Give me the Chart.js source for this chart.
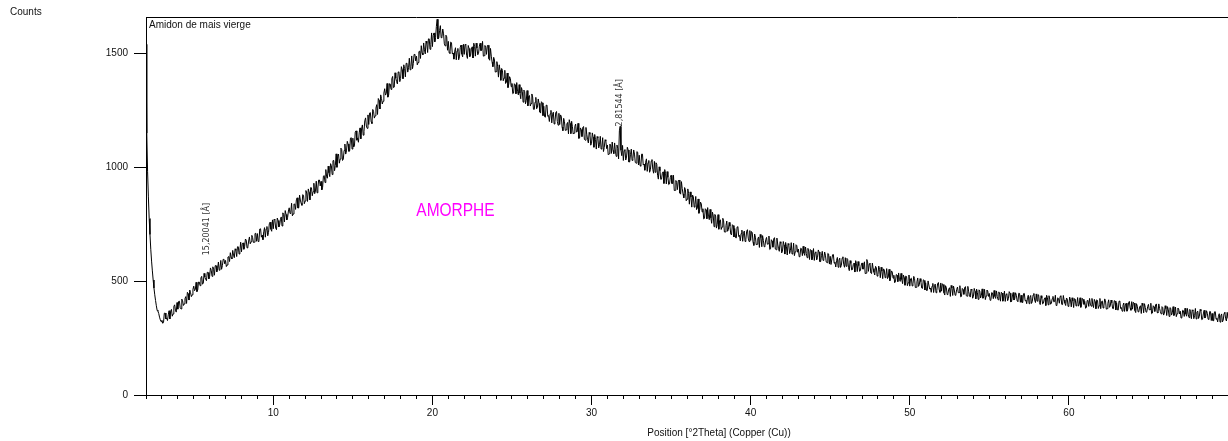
<!DOCTYPE html>
<html>
<head>
<meta charset="utf-8">
<script src="https://cdn.jsdelivr.net/npm/chart.js@4.4.1/dist/chart.umd.min.js"></script>
<style>
  html, body { margin: 0; padding: 0; background: #fff; overflow: hidden; }
  #wrap { width: 1228px; height: 441px; position: relative; }
</style>
</head>
<body>
<div id="wrap"><canvas id="xrd-chart"></canvas></div>
<script>
// scan grid (°2Theta)
const scanStart = 2.0;
const scanStep = 0.1;

// counts at 2.0, 2.1 ... 69.9, 70.0 (one row per degree)
const counts = [
  1540, 980, 775, 640, 545, 470, 415, 372, 358, 330,
  328, 318, 360, 338, 352, 334, 376, 356, 396, 364,
  377, 412, 378, 414, 400, 432, 451, 417, 449, 440,
  478, 463, 454, 496, 480, 521, 490, 518, 502, 538,
  521, 548, 563, 526, 568, 554, 548, 591, 568, 595,
  591, 571, 608, 625, 598, 614, 642, 608, 651, 635,
  629, 668, 652, 680, 650, 694, 673, 692, 671, 710,
  709, 680, 730, 702, 717, 693, 740, 714, 759, 719,
  730, 768, 726, 766, 746, 782, 800, 760, 793, 780,
  822, 803, 787, 839, 815, 866, 822, 856, 833, 877,
  852, 887, 905, 857, 910, 893, 884, 939, 909, 944,
  938, 912, 964, 990, 952, 976, 1016, 968, 1030, 1008,
  1000, 1058, 1036, 1078, 1036, 1102, 1072, 1102, 1072, 1130,
  1128, 1094, 1160, 1129, 1151, 1125, 1186, 1158, 1217, 1171,
  1188, 1240, 1192, 1246, 1226, 1275, 1302, 1256, 1302, 1290,
  1345, 1324, 1308, 1367, 1342, 1399, 1352, 1391, 1366, 1417,
  1390, 1429, 1450, 1397, 1456, 1437, 1428, 1489, 1456, 1495,
  1488, 1460, 1510, 1534, 1494, 1516, 1554, 1504, 1564, 1540,
  1530, 1590, 1570, 1650, 1569, 1622, 1574, 1586, 1533, 1573,
  1553, 1500, 1547, 1502, 1510, 1472, 1522, 1485, 1537, 1485,
  1496, 1537, 1478, 1522, 1491, 1529, 1545, 1488, 1524, 1501,
  1545, 1515, 1488, 1535, 1496, 1536, 1470, 1488, 1442, 1471,
  1420, 1444, 1450, 1382, 1426, 1392, 1368, 1414, 1366, 1390,
  1368, 1326, 1362, 1372, 1318, 1326, 1350, 1286, 1332, 1294,
  1270, 1315, 1280, 1309, 1254, 1307, 1264, 1281, 1238, 1283,
  1268, 1220, 1272, 1227, 1235, 1195, 1242, 1200, 1245, 1185,
  1188, 1224, 1161, 1200, 1164, 1197, 1209, 1148, 1178, 1150,
  1190, 1156, 1127, 1173, 1135, 1179, 1119, 1145, 1107, 1145,
  1105, 1133, 1144, 1080, 1129, 1099, 1080, 1130, 1087, 1115,
  1098, 1059, 1098, 1111, 1060, 1071, 1098, 1037, 1180, 1051,
  1030, 1078, 1045, 1076, 1024, 1080, 1039, 1058, 1018, 1066,
  1053, 1005, 1058, 1014, 1022, 982, 1030, 989, 1034, 974,
  978, 1013, 948, 985, 948, 980, 990, 927, 956, 927,
  965, 929, 898, 942, 902, 944, 882, 906, 866, 902,
  860, 885, 892, 825, 870, 837, 814, 861, 814, 839,
  818, 776, 813, 823, 770, 778, 803, 739, 786, 748,
  728, 769, 738, 765, 716, 764, 726, 741, 703, 744,
  731, 690, 739, 701, 709, 675, 720, 684, 726, 674,
  679, 713, 657, 693, 662, 694, 705, 651, 679, 656,
  692, 664, 639, 682, 649, 691, 638, 663, 631, 666,
  632, 659, 670, 615, 660, 635, 619, 667, 629, 656,
  641, 611, 642, 653, 613, 622, 644, 595, 635, 607,
  591, 629, 603, 628, 586, 631, 598, 614, 581, 619,
  609, 573, 617, 583, 591, 561, 601, 569, 607, 561,
  565, 595, 546, 578, 551, 579, 590, 542, 568, 547,
  580, 554, 533, 595, 543, 579, 533, 555, 527, 559,
  529, 552, 561, 511, 549, 526, 511, 552, 517, 540,
  526, 497, 526, 536, 499, 507, 527, 482, 519, 493,
  478, 513, 488, 512, 473, 514, 484, 498, 468, 503,
  493, 459, 501, 470, 478, 450, 487, 459, 494, 451,
  456, 485, 439, 470, 445, 471, 481, 437, 461, 443,
  474, 450, 431, 468, 442, 476, 434, 455, 430, 460,
  432, 455, 465, 420, 457, 438, 425, 464, 435, 457,
  446, 419, 448, 459, 424, 433, 453, 412, 448, 425,
  411, 445, 423, 447, 411, 450, 424, 438, 411, 446,
  438, 406, 446, 417, 427, 401, 437, 410, 446, 406,
  412, 439, 397, 425, 403, 427, 438, 396, 420, 402,
  433, 410, 393, 427, 403, 436, 397, 417, 393, 421,
  396, 417, 427, 384, 421, 401, 390, 427, 399, 420,
  411, 384, 414, 424, 390, 399, 420, 379, 415, 392,
  379, 413, 391, 415, 379, 418, 391, 405, 379, 413,
  405, 373, 413, 384, 393, 367, 403, 376, 411, 372,
  377, 404, 362, 390, 368, 392, 403, 361, 385, 367,
  398, 375, 357, 392, 367, 400, 360, 380, 356, 384,
  358, 379, 388, 345, 381, 361, 349, 386, 357, 378,
  368, 341, 370, 381, 346, 355, 376, 335, 370, 348,
  334, 368, 346, 369, 333, 372, 345, 359, 332, 366,
  358, 326, 366, 337, 346, 320, 356, 329, 364, 325,
  336,
];

// counts read at the half steps 2.05, 2.15 ... 69.95
const countsMid = [
  1150, 870, 705, 588, 505, 440, 392, 368, 342, 322,
  315, 359, 334, 327, 370, 367, 346, 389, 373, 406,
  411, 383, 421, 393, 423, 402, 445, 461, 432, 464,
  458, 495, 461, 496, 514, 487, 534, 508, 539, 510,
  558, 521, 552, 568, 541, 584, 558, 552, 596, 576,
  564, 606, 586, 604, 635, 603, 635, 651, 619, 671,
  662, 640, 685, 646, 676, 664, 701, 670, 709, 675,
  674, 729, 693, 682, 735, 729, 699, 752, 728, 769,
  772, 733, 777, 738, 772, 742, 793, 810, 769, 808,
  797, 842, 795, 838, 857, 821, 878, 842, 880, 840,
  898, 850, 890, 911, 875, 930, 896, 888, 944, 918,
  901, 961, 933, 959, 1005, 959, 1007, 1029, 985, 1059,
  1048, 1018, 1084, 1030, 1074, 1058, 1114, 1070, 1128, 1080,
  1089, 1154, 1119, 1110, 1173, 1170, 1141, 1204, 1181, 1230,
  1238, 1200, 1254, 1216, 1260, 1232, 1294, 1318, 1278, 1326,
  1317, 1368, 1317, 1366, 1389, 1350, 1415, 1376, 1419, 1376,
  1442, 1389, 1434, 1457, 1418, 1479, 1442, 1433, 1496, 1467,
  1450, 1508, 1478, 1502, 1546, 1498, 1544, 1564, 1518, 1590,
  1579, 1551, 1619, 1564, 1600, 1569, 1607, 1542, 1580, 1514,
  1504, 1550, 1498, 1475, 1525, 1511, 1472, 1527, 1497, 1540,
  1540, 1492, 1535, 1486, 1519, 1480, 1531, 1545, 1494, 1532,
  1512, 1553, 1490, 1526, 1534, 1477, 1522, 1462, 1483, 1418,
  1464, 1396, 1426, 1434, 1380, 1426, 1374, 1350, 1398, 1354,
  1323, 1367, 1323, 1333, 1363, 1301, 1333, 1339, 1279, 1337,
  1312, 1269, 1322, 1255, 1286, 1257, 1300, 1243, 1288, 1227,
  1222, 1273, 1224, 1201, 1250, 1233, 1190, 1239, 1202, 1237,
  1230, 1177, 1215, 1162, 1190, 1147, 1193, 1202, 1146, 1179,
  1155, 1193, 1129, 1165, 1175, 1123, 1175, 1123, 1153, 1097,
  1151, 1088, 1122, 1135, 1085, 1136, 1088, 1069, 1121, 1082,
  1055, 1102, 1061, 1074, 1107, 1048, 1083, 1160, 1075, 1096,
  1073, 1032, 1088, 1023, 1057, 1030, 1076, 1021, 1069, 1010,
  1007, 1058, 1010, 987, 1037, 1020, 978, 1027, 991, 1026,
  1020, 965, 1002, 947, 974, 929, 974, 981, 924, 955,
  929, 965, 899, 933, 941, 887, 937, 883, 911, 853,
  905, 838, 869, 878, 825, 872, 821, 798, 847, 804,
  773, 818, 774, 785, 815, 754, 786, 793, 733, 792,
  766, 727, 776, 716, 744, 719, 758, 707, 748, 694,
  691, 738, 696, 677, 724, 710, 674, 719, 689, 722,
  718, 671, 707, 660, 686, 648, 691, 700, 651, 682,
  662, 698, 642, 676, 686, 641, 689, 644, 673, 624,
  674, 619, 651, 665, 621, 669, 627, 612, 660, 627,
  607, 645, 612, 623, 650, 603, 632, 639, 594, 643,
  625, 593, 637, 586, 612, 591, 628, 584, 622, 575,
  573, 616, 579, 562, 604, 592, 560, 601, 573, 603,
  600, 559, 590, 549, 573, 540, 578, 586, 543, 571,
  553, 585, 535, 585, 575, 536, 579, 539, 565, 522,
  566, 515, 544, 554, 515, 555, 518, 502, 545, 513,
  493, 529, 498, 508, 534, 489, 516, 523, 480, 527,
  510, 479, 521, 472, 497, 477, 511, 470, 506, 461,
  459, 501, 465, 451, 490, 480, 449, 489, 462, 492,
  488, 449, 480, 441, 465, 433, 470, 478, 438, 464,
  449, 480, 433, 463, 472, 436, 477, 440, 465, 425,
  468, 422, 450, 462, 426, 466, 432, 419, 461, 433,
  416, 450, 423, 433, 457, 418, 443, 451, 412, 456,
  442, 414, 454, 409, 435, 417, 449, 413, 447, 407,
  407, 445, 414, 401, 438, 429, 402, 439, 417, 444,
  442, 406, 436, 400, 422, 393, 428, 436, 399, 423,
  409, 438, 396, 423, 433, 398, 437, 403, 426, 389,
  430, 387, 413, 423, 391, 428, 397, 385, 424, 398,
  381, 415, 389, 399, 424, 384, 410, 418, 380, 424,
  410, 382, 422, 377, 402, 385, 417, 380, 414, 374,
  374, 412, 380, 368, 404, 395, 368, 405, 382, 410,
  407, 371, 401, 365, 387, 358, 393, 401, 364, 388,
  374, 403, 360, 387, 396, 362, 400, 366, 388, 351,
  392, 349, 374, 384, 351, 388, 356, 344, 382, 356,
  338, 372, 345, 356, 380, 340, 366, 374, 335, 380,
  364, 336, 376, 331, 356, 338, 370, 333, 367, 327,
  327, 365, 333, 321, 357, 348, 321, 358, 335, 363,
];

const xMajorTicks = [10, 20, 30, 40, 50, 60];
const yTicks = [0, 500, 1000, 1500];

const peakAngles = [5.81, 31.76];
const peakCounts = [596, 1162];
const peakLabels = ['15,20041 [Å]', '2,81544 [Å]'];

const sampleName = 'Amidon de mais vierge';
const phaseNote = 'AMORPHE';
const yTitle = 'Counts';
const xTitle = 'Position [°2Theta] (Copper (Cu))';

// merge both readings into one scan, in angle order
const points = [];
counts.forEach((c, i) => {
  points.push({ x: scanStart + i * scanStep, y: c });
  if (i < countsMid.length) points.push({ x: scanStart + (i + 0.5) * scanStep, y: countsMid[i] });
});

const FONT = '"Liberation Sans", Arial, sans-serif';

const align = (p) => Math.round(p - 0.5) + 0.5;

const overlay = {
  id: 'overlay',
  afterDraw(chart) {
    const { ctx, chartArea, scales } = chart;
    const xs = scales.x;
    const ys = scales.y;
    ctx.save();
    ctx.strokeStyle = '#000';
    ctx.lineWidth = 1;

    // top frame line
    ctx.beginPath();
    ctx.moveTo(chartArea.left, align(chartArea.top));
    ctx.lineTo(chartArea.right, align(chartArea.top));
    ctx.stroke();

    // minor ticks every degree
    ctx.beginPath();
    for (let v = Math.ceil(xs.min); v < xs.max; v++) {
      if (v % 10 === 0) continue;
      const px = align(xs.getPixelForValue(v));
      ctx.moveTo(px, chartArea.bottom);
      ctx.lineTo(px, chartArea.bottom + 4);
    }
    ctx.stroke();

    // texts
    ctx.fillStyle = '#111';
    ctx.font = '10px ' + FONT;
    ctx.textBaseline = 'middle';
    ctx.textAlign = 'left';
    ctx.fillText(yTitle, 10, 12);
    ctx.fillText(sampleName, chartArea.left + 3, chartArea.top + 8);
    ctx.textAlign = 'center';
    ctx.fillText(xTitle, 719, 433);

    // peak d-spacing labels
    ctx.fillStyle = '#333';
    ctx.font = '8px "DejaVu Sans", sans-serif';
    peakAngles.forEach((a, i) => {
      const px = xs.getPixelForValue(a);
      const py = ys.getPixelForValue(peakCounts[i]) - 4;
      ctx.save();
      ctx.translate(px, py);
      ctx.rotate(-Math.PI / 2);
      ctx.textAlign = 'left';
      ctx.textBaseline = 'middle';
      ctx.fillText(peakLabels[i], 0, 0);
      ctx.restore();
    });

    // phase note
    ctx.save();
    ctx.fillStyle = '#ff00ff';
    ctx.font = '18px ' + FONT;
    ctx.translate(xs.getPixelForValue(21.45), ys.getPixelForValue(810));
    ctx.scale(0.86, 1);
    ctx.textAlign = 'center';
    ctx.textBaseline = 'middle';
    ctx.fillText(phaseNote, 0, 0);
    ctx.restore();

    ctx.restore();
  },
};

new Chart(document.getElementById('xrd-chart'), {
  type: 'line',
  data: {
    datasets: [{
      label: sampleName,
      data: points,
      borderColor: '#000',
      borderWidth: 1,
      pointRadius: 0,
      tension: 0,
      fill: false,
    }],
  },
  options: {
    responsive: true,
    maintainAspectRatio: false,
    animation: false,
    events: [],
    layout: { padding: { top: 17, left: 0, right: 0, bottom: 0 } },
    plugins: { legend: { display: false }, tooltip: { enabled: false } },
    scales: {
      x: {
        type: 'linear',
        min: 2,
        max: 70,
        afterBuildTicks: (axis) => { axis.ticks = xMajorTicks.map((v) => ({ value: v })); },
        afterFit: (axis) => { axis.height = 46; },
        border: { color: '#000', width: 1 },
        grid: { drawOnChartArea: false, drawTicks: true, tickLength: 10, tickColor: '#000' },
        ticks: { color: '#111', font: { family: FONT, size: 10 }, padding: 2, maxRotation: 0, autoSkip: false, callback: (v) => String(v) },
      },
      y: {
        type: 'linear',
        min: 0,
        max: 1660,
        afterBuildTicks: (axis) => { axis.ticks = yTicks.map((v) => ({ value: v })); },
        afterFit: (axis) => { axis.width = 146; },
        border: { color: '#000', width: 1 },
        grid: { drawOnChartArea: false, drawTicks: true, tickLength: 12, tickColor: '#000' },
        ticks: { color: '#111', font: { family: FONT, size: 10 }, padding: 6, callback: (v) => String(v) },
      },
    },
  },
  plugins: [overlay],
});
</script>
</body>
</html>
